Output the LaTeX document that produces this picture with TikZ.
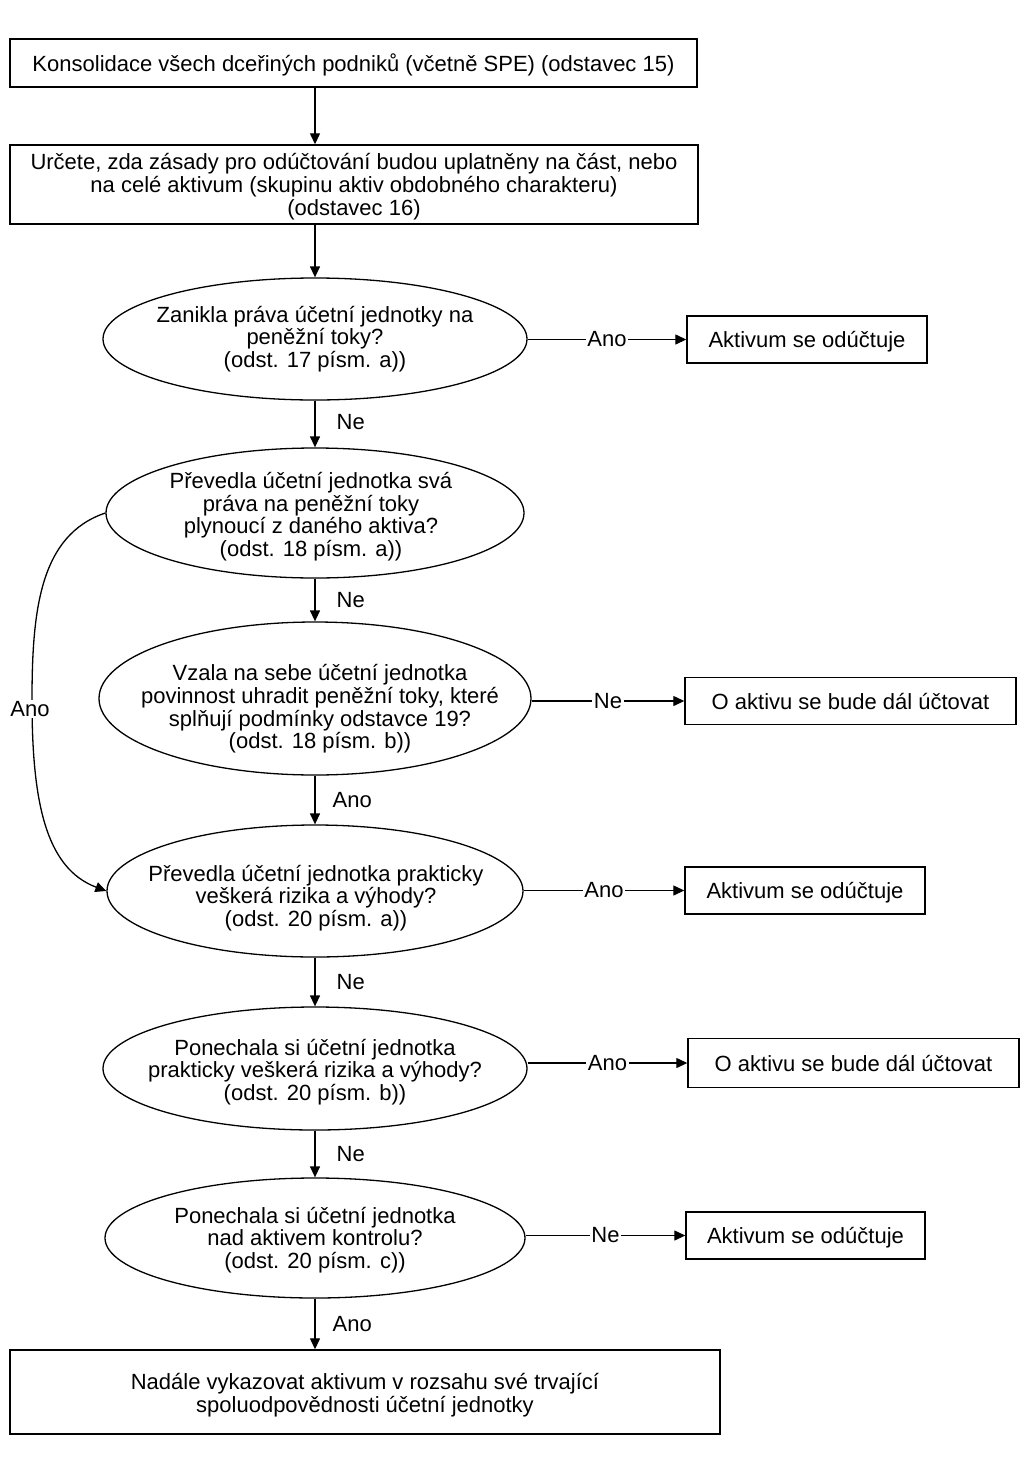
\documentclass[tikz,border=0pt]{standalone}
\usepackage{fontspec}
\setmainfont{Liberation Sans}
\usetikzlibrary{shapes.geometric, arrows.meta}
\newcommand\dfont{\fontsize{22}{22.6}\selectfont}
\newcommand\tst{\rule{0pt}{21pt}}
\newcommand\bst{\rule[-5pt]{0pt}{5pt}}
\begin{document}
\begin{tikzpicture}[x=1pt,y=-1pt,
  box/.style={draw, line width=1.4pt, rectangle, inner sep=0pt, align=center, font=\dfont},
  dec/.style={draw, line width=1.3pt, ellipse, inner sep=0pt},
  txt/.style={inner sep=0pt, align=center, font=\dfont},
  arr/.style={line width=1.3pt, -{Triangle[length=11pt,width=10pt]}},
  lbl/.style={inner sep=1.5pt, fill=white, font=\dfont},
  vlbl/.style={inner sep=0pt, font=\dfont, anchor=west, xshift=21pt}]
\useasboundingbox[fill=white] (0,0) rectangle (1024,1457);

% boxes
\node[box, minimum width=687pt, minimum height=48pt] (b1) at (353.5,63) {\tst Konsolidace všech dceřiných podniků (včetně SPE) (odstavec 15)\bst};
\node[box, minimum width=688pt, minimum height=79pt] (b2) at (354,184.5) {\tst Určete, zda zásady pro odúčtování budou uplatněny na část, nebo\\na celé aktivum (skupinu aktiv obdobného charakteru)\\(odstavec 16)\bst};
\node[box, minimum width=240pt, minimum height=47pt] (b3) at (807,339.5) {\tst Aktivum se odúčtuje\bst};
\node[box, minimum width=331pt, minimum height=47pt] (b4) at (850.5,701) {\tst O aktivu se bude dál účtovat\bst};
\node[box, minimum width=240pt, minimum height=47pt] (b5) at (805,890.5) {\tst Aktivum se odúčtuje\bst};
\node[box, minimum width=331pt, minimum height=49pt] (b6) at (853.5,1063) {\tst O aktivu se bude dál účtovat\bst};
\node[box, minimum width=239pt, minimum height=47pt] (b7) at (805.5,1235.5) {\tst Aktivum se odúčtuje\bst};
\node[box, minimum width=710pt, minimum height=84pt] (b8) at (365,1392) {\rule{0pt}{23pt}Nadále vykazovat aktivum v rozsahu své trvající\\spoluodpovědnosti účetní jednotky\bst};

% decisions
\node[dec, minimum width=424pt, minimum height=122pt] (e1) at (315,339) {};
\node[txt] (e1t) at (315,336.8) {\tst Zanikla práva účetní jednotky na\\peněžní toky?\\(odst. 17 písm. a))\bst};
\node[dec, minimum width=418pt, minimum height=130pt] (e2) at (315,513) {};
\node[txt] (e2t) at (311,514.5) {\tst Převedla účetní jednotka svá\\práva na peněžní toky\\plynoucí z daného aktiva?\\(odst. 18 písm. a))\bst};
\node[dec, minimum width=432pt, minimum height=153pt] (e3) at (315,698.5) {};
\node[txt] (e3t) at (320,706.7) {\tst Vzala na sebe účetní jednotka\\povinnost uhradit peněžní toky, které\\splňují podmínky odstavce 19?\\(odst. 18 písm. b))\bst};
\node[dec, minimum width=416pt, minimum height=132pt] (e4) at (315,891) {};
\node[txt] (e4t) at (316,895.8) {\tst Převedla účetní jednotka prakticky\\veškerá rizika a výhody?\\(odst. 20 písm. a))\bst};
\node[dec, minimum width=424pt, minimum height=123pt] (e5) at (315,1068.5) {};
\node[txt] (e5t) at (315,1069.8) {\tst Ponechala si účetní jednotka\\prakticky veškerá rizika a výhody?\\(odst. 20 písm. b))\bst};
\node[dec, minimum width=420pt, minimum height=120pt] (e6) at (315,1238) {};
\node[txt] (e6t) at (315,1237.8) {\tst Ponechala si účetní jednotka\\nad aktivem kontrolu?\\(odst. 20 písm. c))\bst};

% vertical connectors
\draw[arr] (b1.south -| e1.center) -- (b2.north -| e1.center);
\draw[arr] (b2.south -| e1.center) -- (e1.north);
\draw[arr] (e1.south) -- node[vlbl, yshift=2pt] {Ne} (e2.north);
\draw[arr] (e2.south) -- node[vlbl] {Ne} (e3.north);
\draw[arr] (e3.south) -- node[vlbl, xshift=-4pt] {Ano} (e4.north);
\draw[arr] (e4.south) -- node[vlbl] {Ne} (e5.north);
\draw[arr] (e5.south) -- node[vlbl] {Ne} (e6.north);
\draw[arr] (e6.south) -- node[vlbl, xshift=-4pt] {Ano} (e6.south |- b8.north);

% horizontal connectors
\draw[arr] (e1.east |- b3.west) -- node[lbl] {Ano} (b3.west);
\draw[arr] (e3.east |- b4.west) -- node[lbl] {Ne} (b4.west);
\draw[arr] (e4.east |- b5.west) -- node[lbl] {Ano} (b5.west);
\draw[arr] (e5.east |- b6.west) -- node[lbl] {Ano} (b6.west);
\draw[arr] (e6.east |- b7.west) -- node[lbl] {Ne} (b7.west);

% curved bypass
\draw[arr] (e2.west) .. controls (40,535) and (32,610) .. (32,700) .. controls (32,800) and (45,868) .. (e4.west);
\node[lbl] (anol) at (30,709) {Ano};
\end{tikzpicture}
\end{document}
